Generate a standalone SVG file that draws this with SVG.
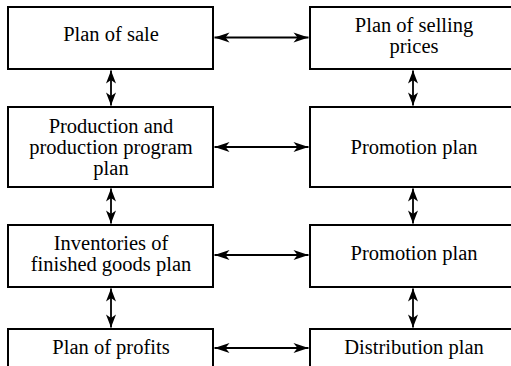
<svg xmlns="http://www.w3.org/2000/svg" width="511" height="366" viewBox="0 0 511 366">
<defs>
<style>
.box{fill:#fff;stroke:#000;stroke-width:2}
.t{font-family:"Liberation Serif","Times New Roman",Times,serif;font-size:20.5px;fill:#000;text-anchor:middle}
.c{stroke:#000;stroke-width:1.8;fill:none}
.h{marker-start:url(#ah);marker-end:url(#ah)}
.v{marker-start:url(#av);marker-end:url(#av)}
</style>
<marker id="ah" viewBox="-17 -7 18 14" refX="0" refY="0" markerWidth="18" markerHeight="14" orient="auto-start-reverse" markerUnits="userSpaceOnUse"><path d="M0,0 L-15,-5 L-11,0 L-15,5 Z" fill="#000"/></marker>
<marker id="av" viewBox="-15 -7 16 14" refX="0" refY="0" markerWidth="16" markerHeight="14" orient="auto-start-reverse" markerUnits="userSpaceOnUse"><path d="M0,0 L-13,-5 L-9.5,0 L-13,5 Z" fill="#000"/></marker>
</defs>
<rect width="511" height="366" fill="#fff"/>
<g id="n1"><rect class="box" x="8" y="7" width="205" height="62"/><text class="t" x="111" y="40.5">Plan of sale</text></g>
<g id="n2"><rect class="box" x="310" y="7" width="215" height="62"/><text class="t" x="414" y="32">Plan of selling</text><text class="t" x="414" y="53">prices</text></g>
<g id="n3"><rect class="box" x="8" y="107" width="205" height="80"/><text class="t" x="111" y="132.5">Production and</text><text class="t" x="111" y="153.5">production program</text><text class="t" x="111" y="174.5">plan</text></g>
<g id="n4"><rect class="box" x="310" y="107" width="215" height="80"/><text class="t" x="414" y="153.5">Promotion plan</text></g>
<g id="n5"><rect class="box" x="8" y="225" width="205" height="62"/><text class="t" x="111" y="250">Inventories of</text><text class="t" x="111" y="271">finished goods plan</text></g>
<g id="n6"><rect class="box" x="310" y="225" width="215" height="62"/><text class="t" x="414" y="260">Promotion plan</text></g>
<g id="n7"><rect class="box" x="8" y="329" width="205" height="60"/><text class="t" x="111" y="354">Plan of profits</text></g>
<g id="n8"><rect class="box" x="310" y="329" width="215" height="60"/><text class="t" x="414" y="354">Distribution plan</text></g>
<g id="connectors">
<line class="c h" x1="214.5" y1="37.5" x2="308.5" y2="37.5"/>
<line class="c h" x1="214.5" y1="147" x2="308.5" y2="147"/>
<line class="c h" x1="214.5" y1="255" x2="308.5" y2="255"/>
<line class="c h" x1="214.5" y1="348" x2="308.5" y2="348"/>
<line class="c v" x1="111" y1="70.5" x2="111" y2="105.5"/>
<line class="c v" x1="111" y1="188.5" x2="111" y2="223.5"/>
<line class="c v" x1="111" y1="288.5" x2="111" y2="327.5"/>
<line class="c v" x1="413" y1="70.5" x2="413" y2="105.5"/>
<line class="c v" x1="413" y1="188.5" x2="413" y2="223.5"/>
<line class="c v" x1="413" y1="288.5" x2="413" y2="327.5"/>
</g>
</svg>
